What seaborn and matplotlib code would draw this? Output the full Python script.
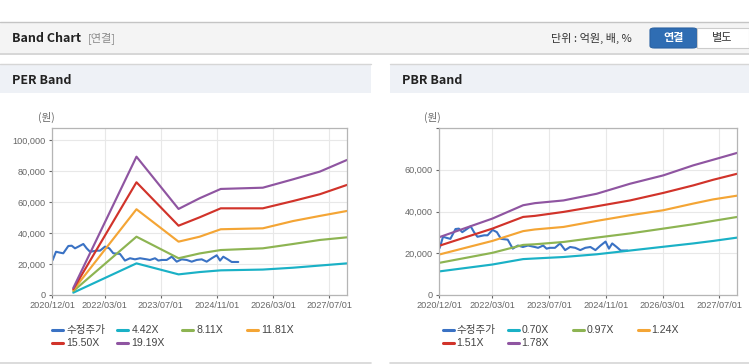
import pandas as pd
import seaborn as sns
import matplotlib.pyplot as plt
import matplotlib.dates as mdates
from matplotlib.patches import Rectangle, FancyBboxPatch
from matplotlib.lines import Line2D
from matplotlib.ticker import FuncFormatter

# 수정주가 (adjusted price), shared by both charts
price_dates = ['2020-12-04', '2021-01-02', '2021-02-06', '2021-03-06', '2021-04-19', '2021-05-18',
               '2021-06-16', '2021-07-15', '2021-08-27', '2021-09-25', '2021-10-24', '2021-12-21',
               '2022-01-19', '2022-03-03', '2022-04-09', '2022-05-14', '2022-07-11', '2022-08-23',
               '2022-10-06', '2022-11-18', '2023-01-01', '2023-02-28', '2023-03-28', '2023-05-11',
               '2023-06-09', '2023-07-08', '2023-08-20', '2023-10-03', '2023-11-15', '2023-12-28',
               '2024-02-10', '2024-03-24', '2024-05-06', '2024-06-19', '2024-08-01', '2024-09-14',
               '2024-10-27', '2024-11-25', '2024-12-23', '2025-01-30', '2025-03-06', '2025-05-02']
price_values = [22500, 27900, 27300, 26900, 31600, 31800,
                30100, 31200, 32900, 30100, 27900, 28600,
                28600, 31200, 30100, 26900, 26500, 22200,
                23700, 23000, 23700, 23000, 22600, 23700,
                22200, 22600, 22600, 24700, 21500, 23000,
                22600, 21500, 22600, 23000, 21500, 23700,
                25600, 22200, 24700, 23000, 21300, 21300]

# PER band
per_dates = ['2021-06-01', '2022-12-01', '2023-12-01', '2024-06-01', '2024-12-01',
             '2025-12-01', '2026-08-20', '2027-04-10', '2027-12-01']
per_labels = ['4.42X', '8.11X', '11.81X', '15.50X', '19.19X']
per_442 = [1500, 20400, 13300, 14800, 15900, 16400, 17600, 19000, 20400]
per_811 = [2500, 37600, 23700, 26800, 29000, 30100, 32900, 35500, 37200]
per_1181 = [3200, 55300, 34400, 37600, 42400, 43000, 47700, 51000, 54200]
per_1550 = [3800, 72700, 44700, 50100, 55900, 55900, 60600, 65000, 71000]
per_1919 = [4500, 89200, 55500, 62400, 68400, 69200, 74600, 79600, 87100]

# PBR band
pbr_dates = ['2020-12-01', '2022-03-01', '2022-11-20', '2023-03-01', '2023-11-01', '2024-08-12',
             '2025-05-25', '2026-03-06', '2026-11-18', '2027-05-08', '2027-12-01']
pbr_labels = ['0.70X', '0.97X', '1.24X', '1.51X', '1.78X']
pbr_070 = [11300, 14600, 17200, 17500, 18200, 19500, 21300, 23100, 24700, 25900, 27500]
pbr_097 = [15400, 20200, 24000, 24300, 25400, 27500, 29500, 31800, 33900, 35500, 37400]
pbr_124 = [19400, 25900, 30600, 31400, 32600, 35500, 38200, 40600, 43800, 45800, 47600]
pbr_151 = [23600, 31800, 37400, 37900, 39800, 42500, 45300, 48900, 52500, 55200, 58100]
pbr_178 = [27700, 36600, 43000, 44000, 45300, 48500, 53300, 57300, 62100, 64800, 68100]

tick_dates = ['2020-12-01', '2022-03-01', '2023-07-01', '2024-11-01', '2026-03-01', '2027-07-01']

price_color = '#3a72c4'
band_colors = ['#1ab1c6', '#8db452', '#f4a535', '#d1332a', '#8f55a1']

sns.set_style('white')
plt.rcParams['font.family'] = ['Liberation Sans', 'Noto Sans CJK KR', 'DejaVu Sans']

W, H = 749, 364


def fx(x):
    return x / W


def fy(y):
    return 1 - y / H


def band_frame(dates, labels, series):
    rows = []
    for lab, vals in zip(labels, series):
        for d, v in zip(dates, vals):
            rows.append({'date': pd.Timestamp(d), 'value': v, 'band': lab})
    return pd.DataFrame(rows)


def draw_chart(ax, df_band, labels, ymax, yticks):
    df_price = pd.DataFrame({'date': pd.to_datetime(price_dates), 'value': price_values})
    sns.lineplot(data=df_price, x='date', y='value', color=price_color, lw=1.5, ax=ax)
    sns.lineplot(data=df_band, x='date', y='value', hue='band', hue_order=labels,
                 palette=band_colors, lw=1.55, legend=False, ax=ax)
    ax.set_xlim(pd.Timestamp('2020-12-01'), pd.Timestamp('2027-12-01'))
    ax.set_ylim(0, ymax)
    ax.set_xticks(pd.to_datetime(tick_dates))
    ax.xaxis.set_major_formatter(mdates.DateFormatter('%Y/%m/%d'))
    ax.set_yticks(yticks)
    ax.yaxis.set_major_formatter(FuncFormatter(lambda v, p: f'{v:,.0f}'))
    ax.set_xlabel('')
    ax.set_ylabel('')
    ax.grid(True, color='#e8e8e8', lw=0.8)
    ax.set_axisbelow(True)
    for s in ax.spines.values():
        s.set_color('#b5b5b5')
        s.set_linewidth(0.9)
    ax.tick_params(axis='both', which='major', labelsize=6.6, colors='#666666',
                   length=2.5, width=0.8, pad=2, direction='out', bottom=True, left=True)
    for t in ax.get_xticklabels() + ax.get_yticklabels():
        t.set_color('#666666')


def draw_legend(fig, x_start, labels):
    names = ['수정주가'] + labels
    colors = [price_color] + band_colors
    for i, (name, col) in enumerate(zip(names, colors)):
        x0 = x_start + (i % 4) * 65
        y0 = 330 + (i // 4) * 13
        fig.add_artist(Line2D([fx(x0), fx(x0 + 11)], [fy(y0), fy(y0)], color=col, lw=2.2,
                              transform=fig.transFigure))
        fig.text(fx(x0 + 14), fy(y0), name, fontsize=7.6, color='#444444', va='center',
                 ha='left', family=['Liberation Sans', 'Noto Sans CJK KR'])


fig = plt.figure(figsize=(W / 100, H / 100), dpi=100)
fig.patch.set_facecolor('white')

# top header bar
fig.add_artist(Rectangle((0, fy(53)), 1, (53 - 22) / H, transform=fig.transFigure,
                         facecolor='#f4f4f4', edgecolor='none'))
fig.add_artist(Line2D([0, 1], [fy(22), fy(22)], color='#c4c4c4', lw=1, transform=fig.transFigure))
fig.add_artist(Line2D([0, 1], [fy(53.5), fy(53.5)], color='#cfcfcf', lw=1.2, transform=fig.transFigure))
fig.text(fx(12), fy(38), 'Band Chart', fontsize=9, weight='bold', color='#222222', va='center',
         family=['Noto Sans CJK KR'])
fig.text(fx(88), fy(38), '[연결]', fontsize=8, color='#8a8a8a', va='center', family=['Noto Sans CJK KR'])
fig.text(fx(551), fy(38), '단위 : 억원, 배, %', fontsize=8, color='#333333', va='center',
         family=['Noto Sans CJK KR'])
fig.add_artist(FancyBboxPatch((fx(650), fy(48)), (697 - 650) / W, 20 / H, transform=fig.transFigure,
                              boxstyle='round,pad=0,rounding_size=0.006', facecolor='#2f6db3',
                              edgecolor='#2a62a2', lw=0.8))
fig.text(fx(673.5), fy(38), '연결', fontsize=8, weight='bold', color='white', va='center', ha='center',
         family=['Noto Sans CJK KR'])
fig.add_artist(Rectangle((fx(697), fy(48)), 52 / W, 20 / H, transform=fig.transFigure,
                         facecolor='white', edgecolor='#cccccc', lw=0.8))
fig.text(fx(722), fy(38), '별도', fontsize=8, color='#333333', va='center', ha='center',
         family=['Noto Sans CJK KR'])

# panel headers
for x0, x1, title in [(0, 371, 'PER Band'), (390, 749, 'PBR Band')]:
    fig.add_artist(Rectangle((fx(x0), fy(93)), (x1 - x0) / W, (93 - 64) / H, transform=fig.transFigure,
                             facecolor='#eef1f6', edgecolor='none'))
    fig.add_artist(Line2D([fx(x0), fx(x1)], [fy(64), fy(64)], color='#d6d6d6', lw=1,
                          transform=fig.transFigure))
    fig.add_artist(Line2D([fx(x0), fx(x1)], [fy(362.5), fy(362.5)], color='#d6d6d6', lw=1.2,
                          transform=fig.transFigure))
    fig.text(fx(x0 + 12), fy(80), title, fontsize=9, weight='bold', color='#222222', va='center',
             family=['Noto Sans CJK KR'])

ax1 = fig.add_axes([fx(52.3), fy(295), 294.7 / W, 167 / H])
ax2 = fig.add_axes([fx(439.3), fy(295), 298 / W, 167 / H])

df_per = band_frame(per_dates, per_labels, [per_442, per_811, per_1181, per_1550, per_1919])
df_pbr = band_frame(pbr_dates, pbr_labels, [pbr_070, pbr_097, pbr_124, pbr_151, pbr_178])

draw_chart(ax1, df_per, per_labels, 107700, [0, 20000, 40000, 60000, 80000, 100000])
draw_chart(ax2, df_pbr, pbr_labels, 80000, [0, 20000, 40000, 60000])
ax2.set_yticks([0, 20000, 40000, 60000, 80000])
ax2.set_yticklabels(['0', '20,000', '40,000', '60,000', ''])

fig.text(fx(38), fy(117), '(원)', fontsize=7.6, color='#666666', va='center', family=['Noto Sans CJK KR'])
fig.text(fx(424), fy(117), '(원)', fontsize=7.6, color='#666666', va='center', family=['Noto Sans CJK KR'])

draw_legend(fig, 52.3, per_labels)
draw_legend(fig, 442.5, pbr_labels)

fig.savefig('out.png', dpi=100)
